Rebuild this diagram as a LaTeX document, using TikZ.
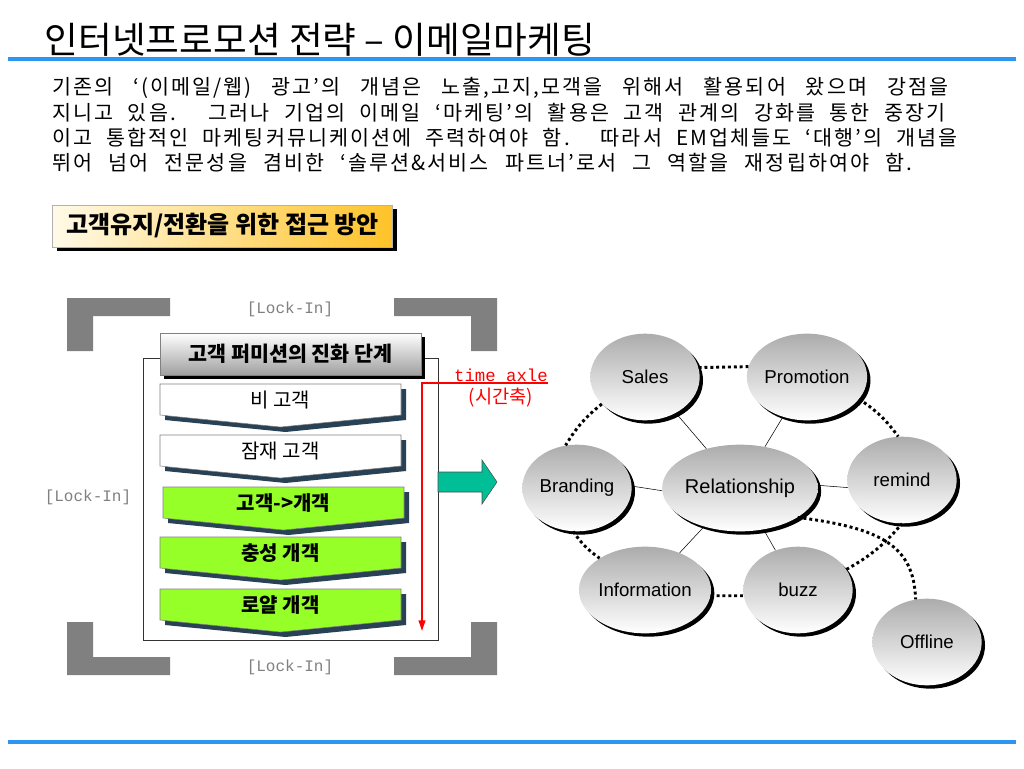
\documentclass[tikz,border=0pt]{standalone}
\usepackage{fontspec}
\setmainfont{Noto Sans CJK KR}
\newfontfamily\arialfont{Liberation Sans}
\newfontfamily\monofont{Liberation Mono}
\usetikzlibrary{positioning,shapes.geometric,arrows.meta}
\definecolor{lineblue}{RGB}{45,150,240}
\definecolor{chevgreen}{RGB}{150,255,40}
\definecolor{chevshade}{RGB}{40,65,85}
\definecolor{pushteal}{RGB}{0,190,150}
\definecolor{goldbar}{RGB}{255,195,40}
\definecolor{creambar}{RGB}{255,250,232}
\tikzstyle{bubble}=[ellipse, minimum width=82pt, minimum height=65pt, inner sep=0pt,
	top color=gray!65, bottom color=white,
	preaction={fill=black, transform canvas={xshift=2.5pt,yshift=-2.5pt}},
	font=\arialfont\fontsize{14}{16}\selectfont]
\tikzstyle{dotline}=[line width=2.2pt, dash pattern=on 2.2pt off 2.2pt]
\tikzstyle{lockin}=[text=gray, font=\monofont\fontsize{12}{14}\selectfont]
\tikzstyle{shadowed}=[preaction={fill=black, transform canvas={xshift=3pt,yshift=-3pt}}]
\tikzstyle{bodyline}=[anchor=west, inner sep=0pt, font=\fontsize{15.5}{18}\selectfont\addfontfeatures{LetterSpace=10}]

\begin{document}
\begin{tikzpicture}[x=0.75pt,y=-0.75pt]
	\useasboundingbox (0,0) rectangle (1024,768);
	\fill[white] (0,0) rectangle (1024,768);
	% heading and rules
	\node[anchor=west, font=\fontsize{27.5}{31}\selectfont] (title) at (40,40) {인터넷프로모션 전략 – 이메일마케팅};
	\fill[lineblue] (8,57) rectangle (1016,61);
	\fill[lineblue] (8,740) rectangle (1016,744);
	\node[bodyline] (txt1) at (52,88) {\makebox[672pt][s]{기존의 ‘(이메일/웹) 광고’의 개념은 노출,고지,모객을 위해서 활용되어 왔으며 강점을}};
	\node[bodyline] (txt2) at (52,113) {\makebox[670pt][s]{지니고 있음. 그러나 기업의 이메일 ‘마케팅’의 활용은 고객 관계의 강화를 통한 중장기}};
	\node[bodyline] (txt3) at (52,138) {\makebox[679pt][s]{이고 통합적인 마케팅커뮤니케이션에 주력하여야 함. 따라서 EM업체들도 ‘대행’의 개념을}};
	\node[bodyline] (txt4) at (52,163) {\makebox[645pt][s]{뛰어 넘어 전문성을 겸비한 ‘솔루션\&서비스 파트너’로서 그 역할을 재정립하여야 함.}};
	\node[shadowed, draw=gray!60, left color=creambar, right color=goldbar, minimum width=255pt, minimum height=31.5pt,
		font=\bfseries\fontsize{18}{20}\selectfont] (approach) at (222.5,226) {고객유지/전환을 위한 접근 방안};
	% lock-in frame
	\foreach \sx/\sy in {1/1,-1/1,1/-1,-1/-1}
		\fill[gray, shift={(282,486.5)}, xscale=\sx, yscale=\sy] (-215,-188.5) -- (-112,-188.5) -- (-112,-170.5)
			-- (-189,-170.5) -- (-189,-135.5) -- (-215,-135.5) -- cycle;
	\node[lockin] (lockT) at (290,309) {[Lock-In]};
	\node[lockin] (lockB) at (290,667) {[Lock-In]};
	\node[lockin] (lockL) at (88,497) {[Lock-In]};
	\node[draw=black!80, fill=white, minimum width=221.25pt, minimum height=211.5pt] (frame) at (290.5,499) {};
	\node[shadowed, draw=gray, top color=white, bottom color=gray!75, minimum width=195.75pt, minimum height=31.5pt,
		font=\bfseries\fontsize{15.5}{18}\selectfont] (perm) at (290.5,354) {고객 퍼미션의 진화 단계};
	\foreach \t/\txt/\col/\dx/\w in {384/비 고객/white/0/m, 435/잠재 고객/white/0/m, 487/고객->개객/chevgreen/3/bx,
			537/충성 개객/chevgreen/0/bx, 589/로얄 개객/chevgreen/0/bx}{
		\fill[chevshade] (\dx+165,\t+5) -- (\dx+406,\t+5) -- (\dx+406,\t+36) -- (\dx+285.5,\t+48) -- (\dx+165,\t+36) -- cycle;
		\draw[gray, fill=\col] (\dx+160,\t) -- (\dx+401,\t) -- (\dx+401,\t+31) -- (\dx+280.5,\t+43) -- (\dx+160,\t+31) -- cycle;
		\node[font=\fontseries{\w}\selectfont\fontsize{15}{18}\selectfont] (stage\t) at (\dx+280.5,\t+16) {\txt};
	}
	% time axle
	\node[anchor=south, inner xsep=0pt, inner ysep=1pt, text=red, font=\monofont\fontsize{13}{15}\selectfont] (axle) at (501,383) {time axle};
	\node[below=0pt of axle, text=red, font=\fontsize{14}{16}\selectfont] (axlekr) {(시간축)};
	\coordinate (axlecorner) at (422,383);
	\coordinate (axleend) at (422,631);
	\draw[red, line width=1.3pt, -{Triangle[length=8pt,width=5pt]}] (axle.south east) -- (axlecorner) -- (axleend);
	\draw[fill=pushteal, draw=black!70] (438,472) -- (482,472) -- (482,460) -- (497,482) -- (482,504) -- (482,492) -- (438,492) -- cycle;
	% relationship map
	\node[bubble] (sales) at (645,377) {Sales};
	\node[bubble] (promo) at (807,377) {Promotion};
	\node[bubble] (brand) at (577,488) {Branding};
	\node[bubble, font=\arialfont\fontsize{15}{17}\selectfont] (rel) at (740,488) {Relationship};
	\node[bubble] (remind) at (902,480) {remind};
	\node[bubble] (info) at (645,590) {Information};
	\node[bubble] (buzz) at (798,590) {buzz};
	\node[bubble] (offline) at (927,642) {Offline};
	\foreach \n in {sales,promo,info,buzz}
		\draw (rel) -- (\n);
	\draw (rel.182) -- (brand.2);
	\draw (rel.2) -- (remind.188);
	\draw[dotline] (sales.10) -- (promo.170);
	\draw[dotline] (sales.212) to[bend right=10] (brand.105);
	\draw[dotline] (promo.337) to[bend left=10] (remind.95);
	\draw[dotline] (brand.265) to[bend right=10] (info.145);
	\draw[dotline] (info.355) -- (buzz.186);
	\draw[dotline] (buzz.23) to[bend right=10] (remind.270);
	\draw[dotline] (rel.333) .. controls (880,528) and (914,545) .. (offline.105);
\end{tikzpicture}
\end{document}
